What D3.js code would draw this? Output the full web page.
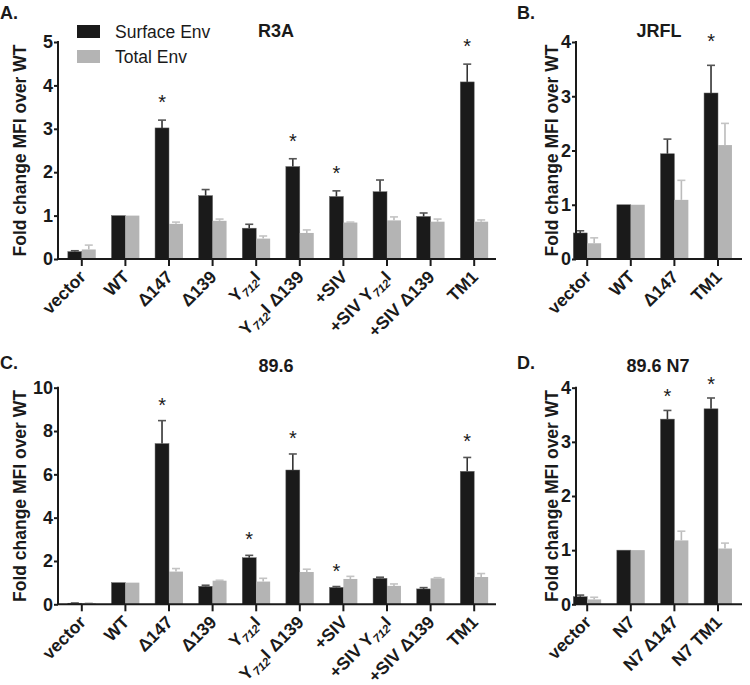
<!DOCTYPE html>
<html>
<head>
<meta charset="utf-8">
<script src="https://cdn.jsdelivr.net/npm/d3@7"></script>
<style>
  body { margin: 0; background: #fff; }
  text { font-family: "Liberation Sans", Arial, sans-serif; fill: #1a1a1a; }
</style>
</head>
<body>
<svg id="fig" width="750" height="685"></svg>
<script>
// values (upper error bars only)
// {..} in a label marks a subscript
const catsA = ['vector', 'WT', 'Δ147', 'Δ139', 'Y{712}I', 'Y{712}I Δ139', '+SIV', '+SIV Y{712}I', '+SIV Δ139', 'TM1']
const surfA = [0.17, 1, 3.02, 1.46, 0.71, 2.13, 1.44, 1.55, 0.98, 4.08]
const surfErrA = [0.02, 0, 0.18, 0.14, 0.09, 0.18, 0.13, 0.27, 0.08, 0.41]
const totA = [0.22, 1, 0.81, 0.88, 0.47, 0.6, 0.84, 0.89, 0.86, 0.86]
const totErrA = [0.1, 0, 0.04, 0.04, 0.06, 0.07, 0.01, 0.08, 0.06, 0.04]
const starsA = [2, 5, 6, 9]

const catsB = ['vector', 'WT', 'Δ147', 'TM1']
const surfB = [0.48, 1, 1.94, 3.06]
const surfErrB = [0.04, 0, 0.27, 0.51]
const totB = [0.29, 1, 1.09, 2.1]
const totErrB = [0.1, 0, 0.36, 0.4]
const starsB = [3]

const catsC = catsA
const surfC = [0.05, 1, 7.42, 0.83, 2.15, 6.2, 0.78, 1.2, 0.71, 6.14]
const surfErrC = [0.01, 0, 1.06, 0.05, 0.11, 0.74, 0.04, 0.05, 0.06, 0.64]
const totC = [0.05, 1, 1.51, 1.09, 1.05, 1.49, 1.17, 0.85, 1.2, 1.26]
const totErrC = [0.01, 0, 0.14, 0.02, 0.15, 0.13, 0.12, 0.09, 0.03, 0.16]
const starsC = [2, 4, 5, 6, 9]

const catsD = ['vector', 'N7', 'N7 Δ147', 'N7 TM1']
const surfD = [0.14, 1, 3.42, 3.61]
const surfErrD = [0.03, 0, 0.16, 0.2]
const totD = [0.09, 1, 1.18, 1.03]
const totErrD = [0.04, 0, 0.17, 0.1]
const starsD = [2, 3]

const ticksA = [0, 1, 2, 3, 4, 5]
const ticksB = [0, 1, 2, 3, 4]
const ticksC = [0, 2, 4, 6, 8, 10]
const ticksD = [0, 1, 2, 3, 4]

const legendNames = ['Surface Env', 'Total Env']
const darkCol = '#1a1a1a'
const lightCol = '#b4b4b4'

const svg = d3.select('#fig')

function drawPanel(p) {
    let g = svg.append('g')
    let x = d3.scaleBand().domain(p.cats).range(p.band)
    let y = d3.scaleLinear().domain([0, d3.max(p.ticks)]).range([p.bottom, p.top])
    let bw = x.bandwidth() * 0.32

    let rows = p.cats.map((c, i) => ({
        cat: c, s: p.surf[i], se: p.surfErr[i], t: p.tot[i], te: p.totErr[i]
    }))

    // bars
    g.selectAll('rect.s').data(rows).enter().append('rect')
        .attr('x', d => x(d.cat) + x.bandwidth() / 2 - bw)
        .attr('y', d => y(d.s))
        .attr('width', bw)
        .attr('height', d => y(0) - y(d.s))
        .attr('fill', darkCol)
        .attr('stroke', '#666').attr('stroke-width', 0.5)
    g.selectAll('rect.t').data(rows).enter().append('rect')
        .attr('x', d => x(d.cat) + x.bandwidth() / 2)
        .attr('y', d => y(d.t))
        .attr('width', bw)
        .attr('height', d => y(0) - y(d.t))
        .attr('fill', lightCol)

    // error bars, upper only
    function errBars(key, ekey, off, col, capCol) {
        let e = rows.filter(d => d[ekey] > 0)
        let cx = d => x(d.cat) + x.bandwidth() / 2 + off
        g.selectAll(null).data(e).enter().append('line')
            .attr('x1', cx).attr('x2', cx)
            .attr('y1', d => y(d[key])).attr('y2', d => y(d[key] + d[ekey]))
            .attr('stroke', col).attr('stroke-width', 1.6)
        g.selectAll(null).data(e).enter().append('line')
            .attr('x1', d => cx(d) - 4).attr('x2', d => cx(d) + 4)
            .attr('y1', d => y(d[key] + d[ekey])).attr('y2', d => y(d[key] + d[ekey]))
            .attr('stroke', capCol).attr('stroke-width', 1.6)
    }
    errBars('s', 'se', -bw / 2, '#333', '#555')
    errBars('t', 'te', bw / 2, '#bbb', '#c4c4c4')

    // asterisks
    g.selectAll('text.star').data(p.stars).enter().append('text')
        .attr('x', i => x(p.cats[i]) + x.bandwidth() / 2 - bw / 2)
        .attr('y', i => y(p.surf[i] + p.surfErr[i]) - p.starGap + 11)
        .attr('text-anchor', 'middle')
        .style('font-size', '20px')
        .text('*')

    // y axis
    let yAxis = g.append('g')
        .attr('transform', `translate(${p.axisX},0)`)
        .call(d3.axisLeft(y).tickValues(p.ticks).tickFormat(d3.format('d')).tickSize(4).tickPadding(1))
    yAxis.select('.domain').attr('d', `M0,${p.top - 1}V${p.bottom}`)
    // x axis
    let xAxis = g.append('g')
        .attr('transform', `translate(0,${p.bottom})`)
        .call(d3.axisBottom(x).tickSize(7).tickFormat(''))
    xAxis.select('.domain').attr('d', `M${p.axisX},0H${p.axisEnd}`)

    g.selectAll('.domain, .tick line').attr('stroke', darkCol).attr('stroke-width', 2)
    yAxis.selectAll('.tick text')
        .style('font-size', '18px').style('font-weight', 'bold')
        .attr('fill', darkCol).attr('font-family', null)

    // rotated category labels, {..} rendered as subscript
    p.cats.forEach(c => {
        let t = g.append('text')
            .attr('transform', `translate(${x(c) + x.bandwidth() / 2 + 5},${p.bottom + 19}) rotate(-45)`)
            .attr('text-anchor', 'end')
            .style('font-size', '17.5px').style('font-weight', 'bold')
        let parts = c.split(/([{}])/)
        let sub = false
        for (let part of parts) {
            if (part === '{') { sub = true; continue }
            if (part === '}') { sub = false; continue }
            if (part === '') continue
            let ts = t.append('tspan').text(part)
            if (sub) {
                ts.style('font-size', '11.5px').style('font-style', 'italic').attr('dy', 4)
            } else if (t.selectAll('tspan').size() > 1) {
                ts.attr('dy', -4)
            }
        }
    })

    // axis title
    g.append('text')
        .attr('transform', `translate(${p.titleX},${(p.top + p.bottom) / 2}) rotate(-90)`)
        .attr('text-anchor', 'middle')
        .style('font-size', '17.5px').style('font-weight', 'bold')
        .text('Fold change MFI over WT')

    // panel title + letter
    g.append('text').attr('x', p.headX).attr('y', p.headY)
        .attr('text-anchor', 'middle')
        .style('font-size', '18px').style('font-weight', 'bold')
        .text(p.name)
    g.append('text').attr('x', p.letterX).attr('y', p.letterY)
        .style('font-size', '18px').style('font-weight', 'bold')
        .text(p.letter)
}

drawPanel({cats: catsA, surf: surfA, surfErr: surfErrA, tot: totA, totErr: totErrA, stars: starsA, ticks: ticksA,
    band: [60, 496], axisX: 58, axisEnd: 496, top: 42, bottom: 259, starGap: 22,
    titleX: 26, name: 'R3A', headX: 276, headY: 37, letter: 'A.', letterX: 0, letterY: 19})
drawPanel({cats: catsB, surf: surfB, surfErr: surfErrB, tot: totB, totErr: totErrB, stars: starsB, ticks: ticksB,
    band: [565.4, 739.8], axisX: 576, axisEnd: 742, top: 42, bottom: 259, starGap: 28,
    titleX: 558, name: 'JRFL', headX: 659, headY: 37, letter: 'B.', letterX: 517, letterY: 19})
drawPanel({cats: catsC, surf: surfC, surfErr: surfErrC, tot: totC, totErr: totErrC, stars: starsC, ticks: ticksC,
    band: [60, 496], axisX: 58, axisEnd: 496, top: 387.7, bottom: 604.3, starGap: 20,
    titleX: 26, name: '89.6', headX: 276, headY: 372, letter: 'C.', letterX: 0, letterY: 369})
drawPanel({cats: catsD, surf: surfD, surfErr: surfErrD, tot: totD, totErr: totErrD, stars: starsD, ticks: ticksD,
    band: [565.4, 739.8], axisX: 576, axisEnd: 742, top: 387.7, bottom: 604.3, starGap: 18,
    titleX: 558, name: '89.6 N7', headX: 658, headY: 372, letter: 'D.', letterX: 517, letterY: 369})

// legend (panel A)
let leg = svg.append('g')
legendNames.forEach((n, i) => {
    leg.append('rect').attr('x', 77).attr('y', 25 + i * 25).attr('width', 23).attr('height', 13)
        .attr('fill', i === 0 ? darkCol : lightCol)
    leg.append('text').attr('x', 115).attr('y', 38 + i * 25)
        .style('font-size', '17.5px')
        .text(n)
})
</script>
</body>
</html>
